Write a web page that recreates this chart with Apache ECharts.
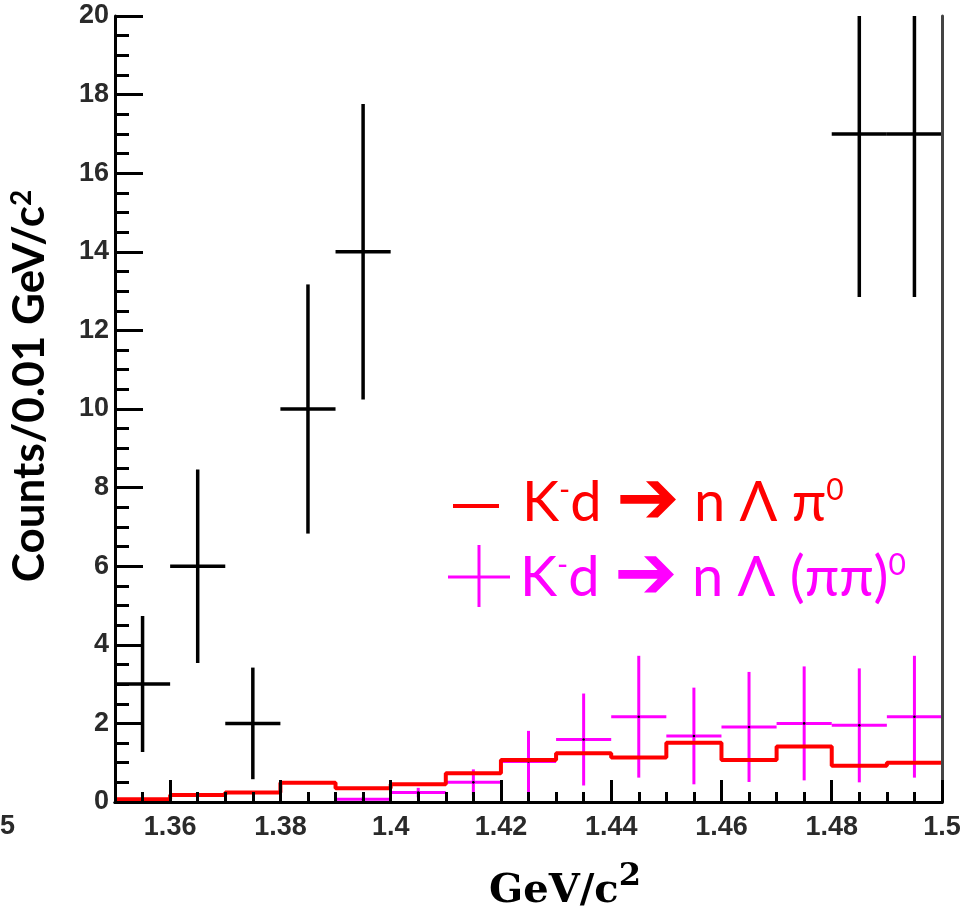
<!DOCTYPE html>
<html>
<head>
<meta charset="utf-8">
<script src="https://cdn.jsdelivr.net/npm/echarts@6/dist/echarts.min.js"></script>
<style>
html, body { margin: 0; padding: 0; background: #fff; }
#main { width: 960px; height: 920px; }
</style>
</head>
<body>
<div id="main"></div>
<script>
var binWidth = 0.01;

// black points: bin centre, counts, error
var blackX = [1.355, 1.365, 1.375, 1.385, 1.395, 1.485, 1.495];
var blackY = [3, 6, 2, 10, 14, 17, 17];
var blackErr = [1.73, 2.46, 1.42, 3.17, 3.76, 4.15, 4.15];

// magenta points: K-d -> n Lambda (pi pi)0
var pinkX = [1.395, 1.405, 1.415, 1.425, 1.435, 1.445, 1.455, 1.465, 1.475, 1.485, 1.495];
var pinkY = [0.07, 0.24, 0.50, 1.03, 1.59, 2.17, 1.68, 1.91, 2.00, 1.95, 2.17];
var pinkErr = [0.05, 0.12, 0.33, 0.78, 1.17, 1.55, 1.23, 1.40, 1.45, 1.45, 1.55];

// red histogram: K-d -> n Lambda pi0 (lower bin edges + last upper edge)
var redEdges = [1.35, 1.36, 1.37, 1.38, 1.39, 1.40, 1.41, 1.42, 1.43, 1.44, 1.45, 1.46, 1.47, 1.48, 1.49, 1.50];
var redY = [0.07, 0.18, 0.24, 0.49, 0.35, 0.45, 0.73, 1.07, 1.24, 1.13, 1.51, 1.07, 1.41, 0.92, 1.00];

// axis ticks
var xTicks = [1.36, 1.38, 1.40, 1.42, 1.44, 1.46, 1.48, 1.50];
var xLabels = ['1.36', '1.38', '1.4', '1.42', '1.44', '1.46', '1.48', '1.5'];

var labelFont = 'Liberation Sans';
var legendFont = 'Lato';

function errRender(color, lw, dot) {
	return function (params, api) {
		var x = api.value(0), y = api.value(1), e = api.value(2);
		var l = api.coord([x - binWidth / 2, y]);
		var r = api.coord([x + binWidth / 2, y]);
		var t = api.coord([x, y + e]);
		var b = api.coord([x, y - e]);
		var kids = [
			{ type: 'line', shape: { x1: l[0], y1: l[1], x2: r[0], y2: r[1] }, style: { stroke: color, lineWidth: lw } },
			{ type: 'line', shape: { x1: t[0], y1: t[1], x2: b[0], y2: b[1] }, style: { stroke: color, lineWidth: lw } }
		];
		if (dot) {
			var c = api.coord([x, y]);
			kids.push({ type: 'circle', shape: { cx: c[0], cy: c[1], r: 1.3 }, style: { fill: '#000' } });
		}
		return { type: 'group', children: kids };
	};
}

var blackData = blackX.map(function (x, i) { return [x, blackY[i], blackErr[i]]; });
var pinkData = pinkX.map(function (x, i) { return [x, pinkY[i], pinkErr[i]]; });
var redData = redY.map(function (v, i) { return [redEdges[i], v]; });
redData.push([redEdges[redEdges.length - 1], redY[redY.length - 1]]);

// legend text rich styles
function legendRich(color) {
	return {
		sup: { fontFamily: legendFont, fontSize: 30, fill: color, verticalAlign: 'top', lineHeight: 30 },
		arr: { fontFamily: 'DejaVu Sans', fontSize: 76, fill: color, verticalAlign: 'middle', lineHeight: 56 }
	};
}

var myChart = echarts.init(document.getElementById('main'));
myChart.setOption({
	animation: false,
	backgroundColor: '#fff',
	grid: {
		left: 115, right: 18, top: 16, bottom: 118,
		containLabel: false,
		outerBoundsMode: 'none'
	},
	xAxis: [{
		type: 'value', min: 1.35, max: 1.5, position: 'bottom', z: 5,
		axisLine: { onZero: false, lineStyle: { color: '#000', width: 3 } },
		axisTick: { inside: true, length: 22, customValues: xTicks, lineStyle: { color: '#000', width: 3 } },
		axisLabel: {
			customValues: xTicks, margin: 12,
			fontFamily: labelFont, fontSize: 27, fontWeight: 'bold', color: '#2a2a2a',
			formatter: function (v) {
				for (var i = 0; i < xTicks.length; i++) {
					if (Math.abs(xTicks[i] - v) < 1e-6) return xLabels[i];
				}
				return '';
			}
		},
		splitLine: { show: false }
	}, {
		type: 'value', min: 1.35, max: 1.5, interval: 0.005, position: 'bottom', z: 5,
		axisLine: { show: false },
		axisTick: { inside: true, length: 10, lineStyle: { color: '#000', width: 3 } },
		axisLabel: { show: false },
		splitLine: { show: false }
	}, {
		type: 'value', min: 1.35, max: 1.5, position: 'top', z: 5,
		axisLine: { lineStyle: { color: '#000', width: 3 } },
		axisTick: { show: false }, axisLabel: { show: false }, splitLine: { show: false }
	}],
	yAxis: [{
		type: 'value', min: 0, max: 20, interval: 2, position: 'left', z: 5,
		axisLine: { onZero: false, lineStyle: { color: '#000', width: 3 } },
		axisTick: { inside: true, length: 28, lineStyle: { color: '#000', width: 3 } },
		minorTick: { show: true, splitNumber: 4, length: 14, lineStyle: { color: '#000', width: 3 } },
		axisLabel: { margin: 6, fontFamily: labelFont, fontSize: 27, fontWeight: 'bold', color: '#2a2a2a' },
		splitLine: { show: false }
	}, {
		type: 'value', min: 0, max: 20, position: 'right', z: 5,
		axisLine: { lineStyle: { color: '#444', width: 3 } },
		axisTick: { show: false }, axisLabel: { show: false }, splitLine: { show: false }
	}],
	series: [{
		name: 'pipi',
		type: 'custom',
		clip: true,
		xAxisIndex: 0, yAxisIndex: 0,
		renderItem: errRender('#ff00ff', 3, true),
		data: pinkData,
		z: 2
	}, {
		name: 'pi0',
		type: 'line',
		step: 'end',
		xAxisIndex: 0, yAxisIndex: 0,
		symbol: 'none',
		lineStyle: { color: '#ff0000', width: 4 },
		data: redData,
		z: 3
	}, {
		name: 'data',
		type: 'custom',
		clip: true,
		xAxisIndex: 0, yAxisIndex: 0,
		renderItem: errRender('#000', 3.5, false),
		data: blackData,
		z: 4
	}],
	graphic: [{
		type: 'text', left: 0, top: 813,
		style: { text: '5', fontFamily: labelFont, fontSize: 27, fontWeight: 'bold', fill: '#2a2a2a' }
	}, {
		type: 'text', x: 30, y: 386, rotation: Math.PI / 2,
		style: {
			text: 'Counts/0.01 GeV/c{sup|2}',
			fontFamily: legendFont, fontSize: 44, fontWeight: 'bold', fill: '#000',
			align: 'center', verticalAlign: 'middle', textAlign: 'center', textVerticalAlign: 'middle',
			rich: { sup: { fontFamily: legendFont, fontSize: 28, fontWeight: 'bold', verticalAlign: 'top', lineHeight: 24 } }
		}
	}, {
		type: 'text', x: 565, y: 892,
		style: {
			text: 'GeV/c{sup|2}',
			fontFamily: 'DejaVu Serif', fontSize: 40, fontWeight: 'bold', fill: '#000', lineHeight: 62,
			align: 'center', verticalAlign: 'middle', textAlign: 'center', textVerticalAlign: 'middle',
			rich: { sup: { fontFamily: 'DejaVu Serif', fontSize: 32, fontWeight: 'bold', verticalAlign: 'top', lineHeight: 32 } }
		}
	}, {
		type: 'line', shape: { x1: 453, y1: 506, x2: 499, y2: 506 },
		style: { stroke: '#ff0000', lineWidth: 4 }
	}, {
		type: 'text', x: 522, y: 503,
		style: {
			text: 'K{sup|-}d {arr|➔} n Λ π{sup|0}',
			fontFamily: legendFont, fontSize: 56, fill: '#ff0000', lineHeight: 56,
			align: 'left', verticalAlign: 'middle', textAlign: 'left', textVerticalAlign: 'middle',
			rich: legendRich('#ff0000')
		}
	}, {
		type: 'line', shape: { x1: 448, y1: 577, x2: 510, y2: 577 },
		style: { stroke: '#ff00ff', lineWidth: 3 }
	}, {
		type: 'line', shape: { x1: 479, y1: 545, x2: 479, y2: 607 },
		style: { stroke: '#ff00ff', lineWidth: 3 }
	}, {
		type: 'text', x: 520, y: 578,
		style: {
			text: 'K{sup|-}d {arr|➔} n Λ (ππ){sup|0}',
			fontFamily: legendFont, fontSize: 56, fill: '#ff00ff', lineHeight: 56,
			align: 'left', verticalAlign: 'middle', textAlign: 'left', textVerticalAlign: 'middle',
			rich: legendRich('#ff00ff')
		}
	}]
});
</script>
</body>
</html>
